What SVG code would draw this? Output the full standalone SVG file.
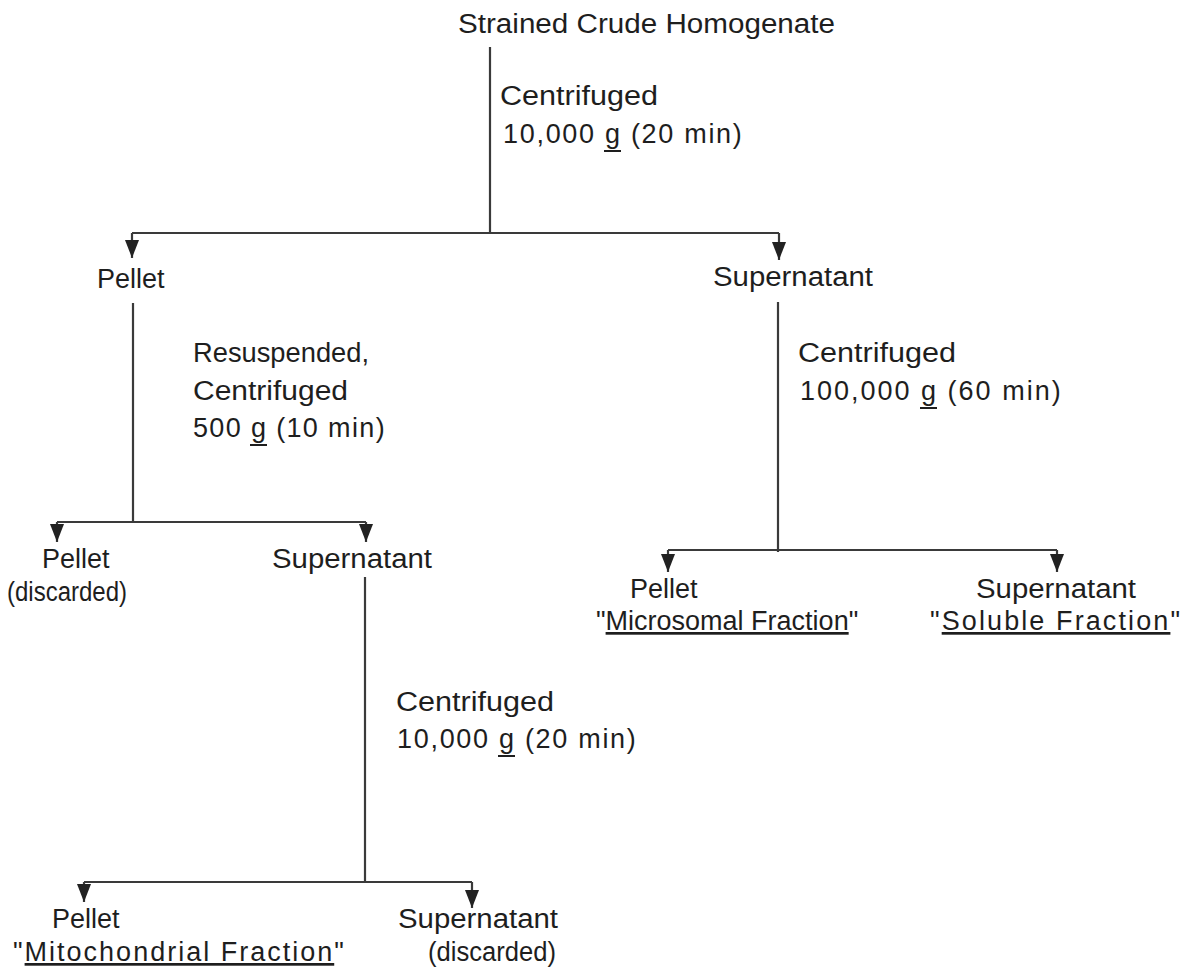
<svg xmlns="http://www.w3.org/2000/svg" width="1196" height="971" viewBox="0 0 1196 971">
<defs>
<style>
text{font-family:"Liberation Sans",Arial,sans-serif;font-size:27px;fill:#1e1e1e;}
.u{text-decoration:underline;text-decoration-skip-ink:none;}
.ln{stroke:#3a3a3a;stroke-width:2.2;fill:none;}
.ul{stroke:#1e1e1e;stroke-width:2;}
</style>
<marker id="ah" markerUnits="userSpaceOnUse" markerWidth="16" markerHeight="20" refX="7" refY="19" orient="0" viewBox="0 0 14 20">
<path d="M0,1 L14,1 L7,19 z" fill="#222"/>
</marker>
</defs>
<rect width="1196" height="971" fill="#fff"/>
<g id="connectors">
<path class="ln" d="M490,47 V233 M132,233 H779"/>
<path class="ln" d="M132,233 V258" marker-end="url(#ah)"/>
<path class="ln" d="M779,233 V260" marker-end="url(#ah)"/>
<path class="ln" d="M133,303 V522 M57,522 H366"/>
<path class="ln" d="M57,522 V542" marker-end="url(#ah)"/>
<path class="ln" d="M366,522 V542" marker-end="url(#ah)"/>
<path class="ln" d="M778,302 V552 M668,550 H1057"/>
<path class="ln" d="M668,550 V572" marker-end="url(#ah)"/>
<path class="ln" d="M1057,550 V572" marker-end="url(#ah)"/>
<path class="ln" d="M365,577 V882 M84,882 H472"/>
<path class="ln" d="M84,882 V902" marker-end="url(#ah)"/>
<path class="ln" d="M472,882 V908" marker-end="url(#ah)"/>
</g>
<g id="n-homogenate"><text x="458" y="33" textLength="377" lengthAdjust="spacingAndGlyphs">Strained Crude Homogenate</text></g>
<g id="l-c1"><text x="500" y="105" textLength="158" lengthAdjust="spacingAndGlyphs">Centrifuged</text>
<text x="503" y="143" letter-spacing="1.7">10,000 g (20 min)</text>
<line class="ul" x1="604" y1="151" x2="621" y2="151"/></g>
<g id="n-pellet1"><text x="97" y="288">Pellet</text></g>
<g id="n-super1"><text x="713" y="286" textLength="160" lengthAdjust="spacingAndGlyphs">Supernatant</text></g>
<g id="l-c2"><text x="193" y="362" textLength="176" lengthAdjust="spacingAndGlyphs">Resuspended,</text>
<text x="193" y="400" textLength="155" lengthAdjust="spacingAndGlyphs">Centrifuged</text>
<text x="193" y="437" letter-spacing="1.35">500 g (10 min)</text>
<line class="ul" x1="250" y1="445" x2="267" y2="445"/></g>
<g id="l-c3"><text x="798" y="362" textLength="158" lengthAdjust="spacingAndGlyphs">Centrifuged</text>
<text x="800" y="400" letter-spacing="2">100,000 g (60 min)</text>
<line class="ul" x1="920" y1="408" x2="937" y2="408"/></g>
<g id="n-pellet2"><text x="42" y="568">Pellet</text>
<text x="7" y="601" textLength="120" lengthAdjust="spacingAndGlyphs">(discarded)</text></g>
<g id="n-super2"><text x="272" y="568" textLength="160" lengthAdjust="spacingAndGlyphs">Supernatant</text></g>
<g id="n-microsomal"><text x="630" y="598">Pellet</text>
<text x="596" y="630" font-size="26.3">"<tspan class="u">Microsomal Fraction</tspan>"</text></g>
<g id="n-soluble"><text x="976" y="598" textLength="160" lengthAdjust="spacingAndGlyphs">Supernatant</text>
<text x="930" y="630" letter-spacing="2.1">"<tspan class="u">Soluble Fraction</tspan>"</text></g>
<g id="l-c4"><text x="396" y="711" textLength="158" lengthAdjust="spacingAndGlyphs">Centrifuged</text>
<text x="397" y="748" letter-spacing="1.7">10,000 g (20 min)</text>
<line class="ul" x1="498" y1="756" x2="515" y2="756"/></g>
<g id="n-mito"><text x="52" y="928">Pellet</text>
<text x="13" y="961" letter-spacing="2">"<tspan class="u">Mitochondrial Fraction</tspan>"</text></g>
<g id="n-super3"><text x="398" y="928" textLength="160" lengthAdjust="spacingAndGlyphs">Supernatant</text>
<text x="428" y="961" textLength="128" lengthAdjust="spacingAndGlyphs">(discarded)</text></g>
</svg>
